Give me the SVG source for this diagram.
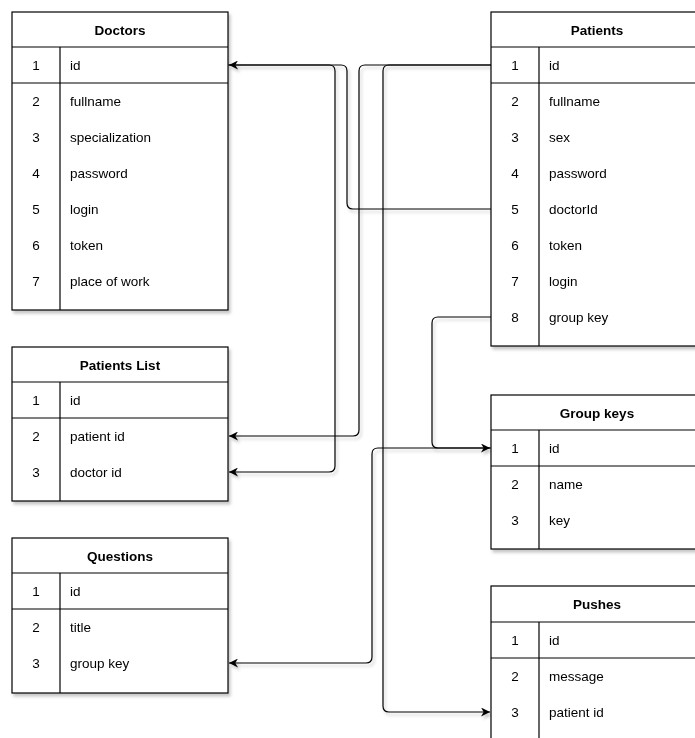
<svg xmlns="http://www.w3.org/2000/svg" width="695" height="738" viewBox="0 0 695 738">
<defs>
<filter id="sh" x="-10%" y="-10%" width="130%" height="130%">
<feDropShadow dx="2" dy="3" stdDeviation="1.5" flood-color="#000" flood-opacity="0.22"/>
</filter>
<marker id="arr" viewBox="0 0 10 10" refX="10" refY="5" markerWidth="9" markerHeight="9" markerUnits="userSpaceOnUse" orient="auto">
<path d="M0,0 L10,5 L0,10 L3,5 z" fill="#000"/>
</marker>
<style>
.box{fill:#fff;stroke:#000;stroke-width:1.2}
.ln{stroke:#000;stroke-width:1.2;fill:none}
.h{font-family:"Liberation Sans",Arial,sans-serif;font-size:13.5px;font-weight:bold;text-anchor:middle;fill:#000}
.n{font-family:"Liberation Sans",Arial,sans-serif;font-size:13.5px;text-anchor:middle;fill:#000}
.t{font-family:"Liberation Sans",Arial,sans-serif;font-size:13.5px;fill:#000}
.c{stroke:#000;stroke-width:1.2;fill:none;marker-end:url(#arr)}
</style>
</defs>
<rect width="695" height="738" fill="#fff"/>

<g id="connectors" filter="url(#sh)">
<path class="c" d="M228,65 H329 Q335,65 335,71 V466 Q335,472 329,472 H229"/>
<path class="c" d="M491,209 H353 Q347,209 347,203 V71 Q347,65 341,65 H229"/>
<path class="c" d="M491,65 H365 Q359,65 359,71 V430 Q359,436 353,436 H229"/>
<path class="c" d="M491,65 H389 Q383,65 383,71 V706 Q383,712 389,712 H490"/>
<path class="c" d="M491,317 H438 Q432,317 432,323 V442 Q432,448 438,448 H490"/>
<path class="c" d="M491,448 H378 Q372,448 372,454 V657 Q372,663 366,663 H229"/>
</g>

<g id="doctors" filter="url(#sh)">
<rect class="box" x="12" y="12" width="216" height="298"/>
<line class="ln" x1="12" y1="47" x2="228" y2="47"/>
<line class="ln" x1="12" y1="83" x2="228" y2="83"/>
<line class="ln" x1="60" y1="47" x2="60" y2="310"/>
<text class="h" x="120" y="34.5">Doctors</text>
<text class="n" x="36" y="70">1</text><text class="t" x="70" y="70">id</text>
<text class="n" x="36" y="106">2</text><text class="t" x="70" y="106">fullname</text>
<text class="n" x="36" y="142">3</text><text class="t" x="70" y="142">specialization</text>
<text class="n" x="36" y="178">4</text><text class="t" x="70" y="178">password</text>
<text class="n" x="36" y="214">5</text><text class="t" x="70" y="214">login</text>
<text class="n" x="36" y="250">6</text><text class="t" x="70" y="250">token</text>
<text class="n" x="36" y="286">7</text><text class="t" x="70" y="286">place of work</text>
</g>

<g id="patients-list" filter="url(#sh)">
<rect class="box" x="12" y="347" width="216" height="154"/>
<line class="ln" x1="12" y1="382" x2="228" y2="382"/>
<line class="ln" x1="12" y1="418" x2="228" y2="418"/>
<line class="ln" x1="60" y1="382" x2="60" y2="501"/>
<text class="h" x="120" y="369.5">Patients List</text>
<text class="n" x="36" y="405">1</text><text class="t" x="70" y="405">id</text>
<text class="n" x="36" y="441">2</text><text class="t" x="70" y="441">patient id</text>
<text class="n" x="36" y="477">3</text><text class="t" x="70" y="477">doctor id</text>
</g>

<g id="questions" filter="url(#sh)">
<rect class="box" x="12" y="538" width="216" height="155"/>
<line class="ln" x1="12" y1="573" x2="228" y2="573"/>
<line class="ln" x1="12" y1="609" x2="228" y2="609"/>
<line class="ln" x1="60" y1="573" x2="60" y2="693"/>
<text class="h" x="120" y="560.5">Questions</text>
<text class="n" x="36" y="596">1</text><text class="t" x="70" y="596">id</text>
<text class="n" x="36" y="632">2</text><text class="t" x="70" y="632">title</text>
<text class="n" x="36" y="668">3</text><text class="t" x="70" y="668">group key</text>
</g>

<g id="patients" filter="url(#sh)">
<rect class="box" x="491" y="12" width="216" height="334"/>
<line class="ln" x1="491" y1="47" x2="707" y2="47"/>
<line class="ln" x1="491" y1="83" x2="707" y2="83"/>
<line class="ln" x1="539" y1="47" x2="539" y2="346"/>
<text class="h" x="597" y="34.5">Patients</text>
<text class="n" x="515" y="70">1</text><text class="t" x="549" y="70">id</text>
<text class="n" x="515" y="106">2</text><text class="t" x="549" y="106">fullname</text>
<text class="n" x="515" y="142">3</text><text class="t" x="549" y="142">sex</text>
<text class="n" x="515" y="178">4</text><text class="t" x="549" y="178">password</text>
<text class="n" x="515" y="214">5</text><text class="t" x="549" y="214">doctorId</text>
<text class="n" x="515" y="250">6</text><text class="t" x="549" y="250">token</text>
<text class="n" x="515" y="286">7</text><text class="t" x="549" y="286">login</text>
<text class="n" x="515" y="322">8</text><text class="t" x="549" y="322">group key</text>
</g>

<g id="group-keys" filter="url(#sh)">
<rect class="box" x="491" y="395" width="216" height="154"/>
<line class="ln" x1="491" y1="430" x2="707" y2="430"/>
<line class="ln" x1="491" y1="466" x2="707" y2="466"/>
<line class="ln" x1="539" y1="430" x2="539" y2="549"/>
<text class="h" x="597" y="417.5">Group keys</text>
<text class="n" x="515" y="453">1</text><text class="t" x="549" y="453">id</text>
<text class="n" x="515" y="489">2</text><text class="t" x="549" y="489">name</text>
<text class="n" x="515" y="525">3</text><text class="t" x="549" y="525">key</text>
</g>

<g id="pushes" filter="url(#sh)">
<rect class="box" x="491" y="586" width="216" height="160"/>
<line class="ln" x1="491" y1="622" x2="707" y2="622"/>
<line class="ln" x1="491" y1="658" x2="707" y2="658"/>
<line class="ln" x1="539" y1="622" x2="539" y2="746"/>
<text class="h" x="597" y="608.5">Pushes</text>
<text class="n" x="515" y="645">1</text><text class="t" x="549" y="645">id</text>
<text class="n" x="515" y="681">2</text><text class="t" x="549" y="681">message</text>
<text class="n" x="515" y="717">3</text><text class="t" x="549" y="717">patient id</text>
</g>
</svg>
